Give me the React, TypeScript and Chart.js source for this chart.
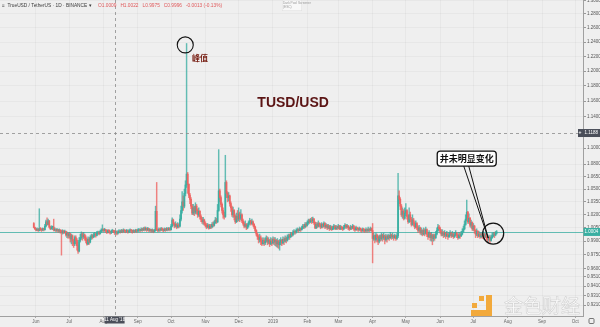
import React, { useEffect, useRef } from "react";
import { Chart, registerables } from "chart.js";

Chart.register(...registerables);

// Daily candles TUSD/USDT (Binance). Day index 0 = 1 Jun 2018.
const FIRST_DAY = -2;
const FIRST_OPEN = 1.01;

// Each entry: [close, high, low]; open = previous close
const BARS_MAY_2018 = [
  [1.0055, 1.011, 1.005], [1.004, 1.006, 1.003],
];
const BARS_JUN_2018 = [
  [1.0025, 1.0045, 1.0015], [1.0035, 1.005, 1.002], [1.002, 1.004, 1.001], [1.0045, 1.027, 1.0015],
  [1.003, 1.0055, 1.002], [1.0025, 1.004, 1.001], [1.004, 1.005, 1.002], [1.003, 1.0045, 1.0015],
  [1.007, 1.009, 1.0025], [1.012, 1.014, 1.006], [1.009, 1.0165, 1.008], [1.013, 1.015, 1.0085],
  [1.006, 1.0135, 1.005], [1.004, 1.007, 1.003], [1.0055, 1.0075, 1.0035], [1.006, 1.007, 1.003],
  [1.0025, 1.015, 1.0015], [1.0035, 1.005, 1.0015], [1.002, 1.004, 1.0005], [1.003, 1.0045, 1.001],
  [1.0015, 1.0035, 1.0], [1.0025, 1.004, 1.0005], [1.001, 1.003, 0.999], [1.0005, 1.0025, 0.9745],
  [1.0015, 1.003, 0.998], [1.0, 1.002, 0.9985], [1.001, 1.0025, 0.999], [0.997, 1.0015, 0.9955],
  [0.999, 1.0005, 0.994], [0.996, 0.9995, 0.993],
];
const BARS_JUL_2018 = [
  [0.998, 1.0, 0.994], [0.9925, 0.999, 0.989], [0.996, 0.998, 0.987], [0.99, 0.997, 0.985],
  [0.987, 0.992, 0.983], [0.994, 0.996, 0.985], [0.991, 0.996, 0.987], [0.985, 0.993, 0.98],
  [0.979, 0.989, 0.9765], [0.991, 0.994, 0.978], [0.994, 0.998, 0.989], [0.998, 1.0005, 0.992],
  [0.995, 0.9995, 0.991], [0.997, 1.0, 0.993], [0.994, 0.998, 0.991], [0.991, 0.996, 0.988],
  [0.987, 0.993, 0.9855], [0.992, 0.995, 0.986], [0.989, 0.994, 0.9865], [0.994, 0.996, 0.988],
  [0.996, 0.998, 0.992], [0.9945, 0.9975, 0.9925], [0.997, 0.999, 0.994], [0.998, 1.0, 0.995],
  [0.9965, 0.999, 0.9945], [0.999, 1.001, 0.996], [1.0, 1.0015, 0.9975], [0.9985, 1.001, 0.997],
  [1.001, 1.0025, 0.998], [1.002, 1.004, 1.0], [1.0035, 1.0085, 1.001],
];
const BARS_AUG_2018 = [
  [1.002, 1.004, 1.0005], [1.003, 1.0045, 1.001], [1.0015, 1.0035, 1.0], [1.0005, 1.0025, 0.9985],
  [1.002, 1.003, 0.9995], [1.001, 1.003, 0.999], [0.9995, 1.0015, 0.998], [1.001, 1.0025, 0.9985],
  [1.002, 1.0035, 1.0], [1.0009, 1.0025, 0.9995], [0.9996, 1.0022, 0.9975], [1.0005, 1.002, 0.9985],
  [0.999, 1.0015, 0.997], [1.0, 1.002, 0.998], [1.0015, 1.003, 0.9995], [1.0005, 1.002, 0.999],
  [1.002, 1.0035, 1.0], [1.001, 1.003, 0.9995], [1.0025, 1.004, 1.0005], [1.0015, 1.003, 1.0],
  [1.001, 1.0025, 0.9995], [1.002, 1.0035, 1.0005], [1.0005, 1.0025, 0.999], [1.0015, 1.003, 1.0],
  [1.0025, 1.004, 1.0005], [1.0015, 1.0035, 1.0], [1.001, 1.0025, 0.999], [1.002, 1.003, 1.0],
  [1.001, 1.0025, 0.9995], [1.0025, 1.0035, 1.0005], [1.0015, 1.003, 1.0],
];
const BARS_SEP_2018 = [
  [1.002, 1.004, 1.0005], [1.003, 1.0045, 1.001], [1.002, 1.0035, 1.0005], [1.0035, 1.005, 1.0015],
  [1.0025, 1.0045, 1.001], [1.004, 1.0055, 1.002], [1.003, 1.006, 1.0015], [1.0045, 1.006, 1.002],
  [1.0025, 1.005, 1.001], [1.004, 1.0055, 1.002], [1.002, 1.0045, 1.0005], [1.003, 1.004, 1.001],
  [1.0015, 1.0035, 1.0], [1.0025, 1.004, 1.0005], [1.001, 1.003, 0.9995], [1.002, 1.0035, 1.0005],
  [1.024, 1.03, 1.0015], [1.003, 1.058, 1.002], [1.002, 1.004, 1.0005], [1.0035, 1.005, 1.001],
  [1.0025, 1.0045, 1.001], [1.004, 1.0055, 1.002], [1.003, 1.005, 1.0015], [1.002, 1.004, 1.0005],
  [1.0035, 1.005, 1.0015], [1.0025, 1.0045, 1.001], [1.004, 1.0055, 1.002], [1.003, 1.005, 1.0015],
  [1.0035, 1.0055, 1.002], [1.003, 1.005, 1.0015],
];
const BARS_OCT_2018 = [
  [1.007, 1.009, 1.0025], [1.014, 1.0165, 1.006], [1.01, 1.015, 1.008], [1.007, 1.011, 1.005],
  [1.009, 1.012, 1.006], [1.006, 1.01, 1.004], [1.008, 1.011, 1.005], [1.007, 1.01, 1.005],
  [1.015, 1.02, 1.006], [1.025, 1.03, 1.013], [1.035, 1.047, 1.022], [1.03, 1.042, 1.025],
  [1.045, 1.05, 1.028], [1.055, 1.06, 1.042], [1.068, 1.238, 1.052], [1.056, 1.07, 1.045],
  [1.043, 1.054, 1.04], [1.038, 1.045, 1.033], [1.03, 1.04, 1.027], [1.022, 1.032, 1.02],
  [1.028, 1.032, 1.02], [1.023, 1.03, 1.019], [1.03, 1.034, 1.021], [1.025, 1.032, 1.021],
  [1.02, 1.027, 1.017], [1.024, 1.028, 1.018], [1.018, 1.025, 1.015], [1.015, 1.02, 1.012],
  [1.012, 1.017, 1.01], [1.014, 1.017, 1.009], [1.01, 1.015, 1.008],
];
const BARS_NOV_2018 = [
  [1.008, 1.012, 1.006], [1.006, 1.01, 1.004], [1.008, 1.01, 1.005], [1.005, 1.009, 1.0035],
  [1.007, 1.009, 1.004], [1.006, 1.009, 1.004], [1.009, 1.011, 1.005], [1.008, 1.012, 1.006],
  [1.011, 1.013, 1.007], [1.014, 1.017, 1.01], [1.012, 1.016, 1.01], [1.025, 1.032, 1.011],
  [1.048, 1.098, 1.024], [1.04, 1.05, 1.035], [1.032, 1.042, 1.029], [1.025, 1.034, 1.022],
  [1.02, 1.028, 1.016], [1.018, 1.023, 1.015], [1.058, 1.091, 1.017], [1.045, 1.06, 1.04],
  [1.04, 1.047, 1.035], [1.042, 1.046, 1.036], [1.033, 1.043, 1.03], [1.028, 1.035, 1.024],
  [1.02, 1.03, 1.018], [1.025, 1.029, 1.017], [1.018, 1.026, 1.014], [1.012, 1.02, 1.01],
  [1.018, 1.022, 1.011], [1.015, 1.025, 1.012],
];
const BARS_DEC_2018 = [
  [1.021, 1.028, 1.013], [1.016, 1.023, 1.012], [1.02, 1.026, 1.014], [1.013, 1.021, 1.011],
  [1.01, 1.015, 1.008], [1.007, 1.012, 1.005], [1.009, 1.013, 1.006], [1.005, 1.01, 1.003],
  [1.008, 1.01, 1.004], [1.011, 1.013, 1.006], [1.013, 1.016, 1.009], [1.01, 1.014, 1.008],
  [1.012, 1.015, 1.009], [1.009, 1.013, 1.007], [1.006, 1.01, 1.004], [1.002, 1.007, 1.0],
  [0.998, 1.003, 0.996], [0.995, 0.999, 0.992], [0.992, 0.997, 0.988], [0.994, 0.998, 0.989],
  [0.99, 0.996, 0.986], [0.987, 0.993, 0.985], [0.991, 0.994, 0.987], [0.988, 0.993, 0.985],
  [0.99, 0.994, 0.986], [0.993, 0.996, 0.989], [0.989, 0.995, 0.986], [0.991, 0.994, 0.987],
  [0.987, 0.992, 0.984], [0.99, 0.994, 0.986], [0.988, 0.993, 0.985],
];
const BARS_JAN_2019 = [
  [0.992, 0.995, 0.987], [0.989, 0.994, 0.986], [0.991, 0.994, 0.985], [0.987, 0.992, 0.984],
  [0.99, 0.993, 0.983], [0.986, 0.991, 0.982], [0.989, 0.992, 0.98], [0.991, 0.994, 0.986],
  [0.988, 0.992, 0.985], [0.992, 0.995, 0.987], [0.99, 0.994, 0.986], [0.993, 0.996, 0.989],
  [0.991, 0.995, 0.988], [0.994, 0.997, 0.99], [0.996, 0.998, 0.992], [0.995, 0.998, 0.992],
  [0.998, 1.0, 0.994], [0.997, 1.0, 0.995], [1.0, 1.002, 0.996], [1.001, 1.003, 0.998],
  [1.0, 1.002, 0.998], [1.002, 1.004, 0.999], [1.003, 1.005, 1.001], [1.002, 1.004, 1.0],
  [1.004, 1.006, 1.0015], [1.003, 1.005, 1.001], [1.005, 1.007, 1.0025], [1.007, 1.009, 1.004],
  [1.006, 1.009, 1.004], [1.009, 1.011, 1.005], [1.008, 1.011, 1.006],
];
const BARS_FEB_2019 = [
  [1.011, 1.013, 1.007], [1.013, 1.015, 1.009], [1.012, 1.015, 1.01], [1.014, 1.016, 1.011],
  [1.013, 1.017, 1.01], [1.015, 1.0175, 1.011], [1.011, 1.016, 1.009], [1.005, 1.012, 1.004],
  [1.009, 1.011, 1.004], [1.007, 1.011, 1.005], [1.01, 1.013, 1.006], [1.008, 1.011, 1.006],
  [1.006, 1.01, 1.004], [1.009, 1.011, 1.005], [1.007, 1.01, 1.005], [1.01, 1.012, 1.006],
  [1.006, 1.011, 1.004], [1.008, 1.01, 1.005], [1.005, 1.009, 1.003], [1.007, 1.009, 1.004],
  [1.004, 1.008, 1.002], [1.006, 1.008, 1.003], [1.003, 1.007, 1.002], [1.005, 1.007, 1.003],
  [1.007, 1.009, 1.004], [1.004, 1.008, 1.003], [1.006, 1.008, 1.003], [1.005, 1.007, 1.003],
];
const BARS_MAR_2019 = [
  [1.007, 1.009, 1.004], [1.004, 1.008, 1.003], [1.006, 1.008, 1.003], [1.005, 1.007, 1.003],
  [1.004, 1.006, 1.002], [1.006, 1.008, 1.003], [1.008, 1.01, 1.005], [1.006, 1.009, 1.004],
  [1.007, 1.009, 1.005], [1.005, 1.008, 1.003], [1.004, 1.006, 1.002], [1.006, 1.008, 1.003],
  [1.005, 1.007, 1.003], [1.007, 1.009, 1.004], [1.004, 1.008, 1.002], [1.003, 1.006, 1.001],
  [1.005, 1.007, 1.002], [1.004, 1.006, 1.002], [1.003, 1.005, 1.001], [1.0045, 1.006, 1.002],
  [1.003, 1.005, 1.001], [1.002, 1.004, 1.0], [1.0035, 1.005, 1.001], [1.0025, 1.0045, 1.0005],
  [1.0015, 1.0035, 1.0], [1.003, 1.005, 1.001], [1.002, 1.004, 1.0], [1.0035, 1.006, 1.001],
  [1.0025, 1.004, 1.0005], [1.004, 1.006, 1.0015], [1.002, 1.005, 1.001],
];
const BARS_APR_2019 = [
  [0.993, 1.01, 0.966], [0.996, 0.999, 0.991], [0.992, 0.997, 0.988], [0.997, 0.999, 0.99],
  [0.994, 0.998, 0.989], [0.99, 0.996, 0.986], [0.995, 0.997, 0.988], [0.993, 0.997, 0.99],
  [0.997, 0.999, 0.991], [0.994, 0.998, 0.99], [0.996, 0.999, 0.992], [0.992, 0.997, 0.987],
  [0.995, 0.998, 0.99], [0.993, 0.997, 0.989], [0.996, 0.998, 0.992], [0.994, 0.997, 0.991],
  [0.997, 1.0, 0.993], [0.995, 0.998, 0.992], [0.996, 0.999, 0.993], [0.994, 0.997, 0.991],
  [0.996, 0.998, 0.993], [0.993, 0.997, 0.991], [0.996, 0.999, 0.992], [1.042, 1.069, 0.994],
  [1.038, 1.048, 1.033], [1.03, 1.04, 1.026], [1.02, 1.032, 1.018], [1.024, 1.028, 1.016],
  [1.016, 1.026, 1.014], [1.022, 1.028, 1.015],
];
const BARS_MAY_2019 = [
  [1.025, 1.033, 1.019], [1.018, 1.026, 1.015], [1.012, 1.02, 1.01], [1.02, 1.028, 1.011],
  [1.015, 1.023, 1.012], [1.009, 1.017, 1.007], [1.014, 1.02, 1.008], [1.01, 1.016, 1.007],
  [1.006, 1.012, 1.004], [1.01, 1.013, 1.005], [1.005, 1.011, 1.003], [1.002, 1.007, 1.0],
  [1.005, 1.008, 1.001], [1.0, 1.006, 0.998], [1.002, 1.005, 0.997], [0.998, 1.003, 0.996],
  [1.002, 1.005, 0.997], [0.999, 1.004, 0.996], [1.003, 1.006, 0.998], [0.998, 1.004, 0.995],
  [0.995, 1.0, 0.992], [0.999, 1.002, 0.994], [0.994, 0.999, 0.991], [0.997, 1.0, 0.99],
  [0.993, 0.998, 0.986], [0.996, 0.998, 0.99], [0.994, 0.998, 0.991], [0.998, 1.001, 0.993],
  [1.002, 1.005, 0.997], [1.006, 1.009, 1.001], [1.004, 1.008, 1.002],
];
const BARS_JUN_2019 = [
  [1.001, 1.006, 0.999], [0.998, 1.003, 0.996], [1.0, 1.003, 0.996], [0.997, 1.001, 0.994],
  [0.999, 1.002, 0.995], [0.996, 1.0, 0.993], [0.998, 1.001, 0.995], [0.995, 0.999, 0.992],
  [0.997, 1.0, 0.994], [0.999, 1.002, 0.996], [0.996, 1.0, 0.994], [0.998, 1.001, 0.995],
  [0.995, 0.999, 0.993], [0.997, 1.0, 0.994], [0.999, 1.002, 0.996], [0.997, 1.0, 0.994],
  [0.994, 0.998, 0.992], [0.997, 1.0, 0.993], [0.996, 0.999, 0.993], [0.998, 1.001, 0.995],
  [1.001, 1.004, 0.997], [1.004, 1.007, 1.0], [1.009, 1.013, 1.003], [1.015, 1.02, 1.008],
  [1.023, 1.037, 1.013], [1.012, 1.024, 1.01], [1.016, 1.021, 1.01], [1.008, 1.017, 1.006],
  [1.011, 1.014, 1.005], [1.004, 1.012, 1.002],
];
const BARS_JUL_2019 = [
  [1.007, 1.01, 1.002], [1.002, 1.008, 0.999], [0.998, 1.003, 0.994], [1.001, 1.004, 0.996],
  [0.996, 1.002, 0.994], [0.998, 1.001, 0.995], [0.995, 0.999, 0.993], [0.997, 1.0, 0.994],
  [0.996, 0.999, 0.993], [0.998, 1.001, 0.995], [0.995, 0.999, 0.992], [0.997, 0.999, 0.994],
  [0.994, 0.998, 0.991], [0.992, 0.996, 0.989], [0.994, 0.997, 0.99], [0.991, 0.996, 0.988],
  [0.994, 0.997, 0.99], [0.996, 0.999, 0.993], [0.998, 1.0, 0.995], [0.997, 1.0, 0.994],
  [0.999, 1.001, 0.996], [1.0004, 1.002, 0.998],
];

// Axis ticks
const X_TICK_DAYS = [0, 30, 61, 92, 122, 153, 183, 214, 245, 273, 304, 334, 365, 395, 426, 457, 487];
const X_TICK_LABELS = ["Jun", "Jul", "Aug", "Sep", "Oct", "Nov", "Dec", "2019", "Feb", "Mar", "Apr", "May", "Jun", "Jul", "Aug", "Sep", "Oct"];
const Y_TICKS = [1.3, 1.28, 1.26, 1.24, 1.22, 1.2, 1.18, 1.16, 1.14, 1.1, 1.08, 1.065, 1.05, 1.035, 1.02, 1.005, 0.99, 0.975, 0.96, 0.951, 0.941, 0.931, 0.921];
const X_MIN = -32.5;
const X_MAX = 494;
const Y_MIN = 0.9097;
const Y_MAX = 1.3004;

// Crosshair & annotations (data coordinates)
const CROSSHAIR_DAY = 71;
const CROSSHAIR_PRICE = 1.1188;
const PEAK_MARK = { day: 134.8, price: 1.236 };
const PEAK_LABEL = { day: 140.9, price: 1.2179, text: "峰值" };
const TITLE = { day: 232.2, price: 1.1574, text: "TUSD/USD" };
const NOTE = { day: 389, price: 1.087, text: "并未明显变化" };
const NOTE_TIP = { day: 408.4, price: 0.9935 };
const END_MARK = { day: 412.9, price: 0.9986 };

const MONTH_ABBR = ["Jan", "Feb", "Mar", "Apr", "May", "Jun", "Jul", "Aug", "Sep", "Oct", "Nov", "Dec"];

const UP = "#3aafa2";
const DOWN = "#ee6462";
const UP_WICK = "rgba(38,166,154,0.7)";
const DOWN_WICK = "rgba(239,83,80,0.7)";
const BG = "#efefef";
const FONT = "'Liberation Sans', Arial, sans-serif";
const CJK = "'Noto Sans CJK SC', sans-serif";

const ALL_BARS = [
  BARS_MAY_2018, BARS_JUN_2018, BARS_JUL_2018, BARS_AUG_2018, BARS_SEP_2018, BARS_OCT_2018,
  BARS_NOV_2018, BARS_DEC_2018, BARS_JAN_2019, BARS_FEB_2019, BARS_MAR_2019, BARS_APR_2019,
  BARS_MAY_2019, BARS_JUN_2019, BARS_JUL_2019,
].flat();

const CANDLES = ALL_BARS.map((b, i) => {
  const o = i === 0 ? FIRST_OPEN : ALL_BARS[i - 1][0];
  const c = b[0];
  return { x: FIRST_DAY + i, o, c, h: Math.max(b[1], o, c), l: Math.min(b[2], o, c) };
});

export default function App() {
  const ref = useRef<HTMLCanvasElement>(null);

  useEffect(() => {
    document.body.style.margin = "0";
    const canvas = ref.current;
    if (!canvas) return;
    const last = CANDLES[CANDLES.length - 1];
    const cross = CANDLES.find((k) => k.x === CROSSHAIR_DAY) || last;

    const overlay = {
      id: "overlay",
      beforeDraw(chart: any) {
        const ctx = chart.ctx;
        ctx.save();
        ctx.fillStyle = BG;
        ctx.fillRect(0, 0, chart.width, chart.height);
        ctx.restore();
      },
      beforeDatasetsDraw(chart: any) {
        const { ctx, chartArea: a, scales } = chart;
        const yy = Math.round(scales.y.getPixelForValue(last.c)) + 0.5;
        ctx.save();
        ctx.strokeStyle = "rgba(38,166,154,0.7)";
        ctx.lineWidth = 1;
        ctx.beginPath();
        ctx.moveTo(a.left, yy);
        ctx.lineTo(a.right, yy);
        ctx.stroke();
        ctx.restore();
      },
      afterDatasetsDraw(chart: any) {
        const { ctx, chartArea: a, scales } = chart;
        const X = (d: number) => scales.x.getPixelForValue(d);
        const Y = (p: number) => scales.y.getPixelForValue(p);
        ctx.save();
        // crosshair
        ctx.strokeStyle = "#8c8c8c";
        ctx.lineWidth = 0.8;
        ctx.setLineDash([3, 3]);
        const cx = Math.round(X(CROSSHAIR_DAY)) + 0.5;
        const cy = Math.round(Y(CROSSHAIR_PRICE)) + 0.5;
        ctx.beginPath();
        ctx.moveTo(cx, a.top);
        ctx.lineTo(cx, a.bottom);
        ctx.moveTo(a.left, cy);
        ctx.lineTo(a.right, cy);
        ctx.stroke();
        ctx.setLineDash([]);

        // peak circle
        ctx.strokeStyle = "#111";
        ctx.lineWidth = 1.1;
        ctx.beginPath();
        ctx.arc(X(PEAK_MARK.day), Y(PEAK_MARK.price), 8, 0, Math.PI * 2);
        ctx.stroke();
        // peak label
        ctx.fillStyle = "#7a2318";
        ctx.font = `bold 8px ${CJK}`;
        ctx.textAlign = "left";
        ctx.textBaseline = "middle";
        ctx.fillText(PEAK_LABEL.text, X(PEAK_LABEL.day), Y(PEAK_LABEL.price));
        // title
        ctx.fillStyle = "#5b1414";
        ctx.font = `bold 14px ${FONT}`;
        ctx.textAlign = "center";
        ctx.fillText(TITLE.text, X(TITLE.day), Y(TITLE.price));

        // callout
        const nx = X(NOTE.day);
        const ny = Y(NOTE.price);
        const bw = 59, bh = 15;
        const tipX = X(NOTE_TIP.day);
        const tipY = Y(NOTE_TIP.price);
        ctx.strokeStyle = "#111";
        ctx.lineWidth = 1;
        ctx.beginPath();
        ctx.moveTo(nx - 3, ny + bh / 2);
        ctx.lineTo(tipX, tipY);
        ctx.lineTo(nx + 2, ny + bh / 2);
        ctx.stroke();
        ctx.fillStyle = "#ffffff";
        ctx.lineWidth = 1.3;
        ctx.beginPath();
        (ctx as any).roundRect(nx - bw / 2, ny - bh / 2, bw, bh, 3);
        ctx.fill();
        ctx.stroke();
        ctx.fillStyle = "#111";
        ctx.font = `bold 9px ${CJK}`;
        ctx.textAlign = "center";
        ctx.fillText(NOTE.text, nx, ny + 0.5);

        // end circle
        ctx.lineWidth = 1.2;
        ctx.beginPath();
        ctx.arc(X(END_MARK.day), Y(END_MARK.price), 10.5, 0, Math.PI * 2);
        ctx.stroke();
        ctx.restore();
      },
      afterDraw(chart: any) {
        const { ctx, chartArea: a, scales } = chart;
        const X = (d: number) => scales.x.getPixelForValue(d);
        const Y = (p: number) => scales.y.getPixelForValue(p);
        ctx.save();
        ctx.textBaseline = "middle";

        // crosshair date label
        const dt = new Date(Date.UTC(2018, 5, 1 + CROSSHAIR_DAY));
        const dateTxt = `${dt.getUTCDate()} ${MONTH_ABBR[dt.getUTCMonth()]} '${String(dt.getUTCFullYear()).slice(2)}`;
        const cx = X(CROSSHAIR_DAY);
        ctx.fillStyle = "#4a4e59";
        ctx.fillRect(cx - 10, a.bottom + 0.5, 20, 7);
        ctx.fillStyle = "#fff";
        ctx.font = `4.5px ${FONT}`;
        ctx.textAlign = "center";
        ctx.fillText(dateTxt, cx, a.bottom + 4);

        // crosshair price label
        const cy = Y(CROSSHAIR_PRICE);
        ctx.fillStyle = "#4a4e59";
        ctx.fillRect(a.right - 5, cy - 4, chart.width - a.right + 5, 8);
        ctx.fillStyle = "#fff";
        ctx.textAlign = "left";
        ctx.font = `bold 5px ${FONT}`;
        ctx.fillText("+", a.right - 4.5, cy);
        ctx.font = `4.5px ${FONT}`;
        ctx.fillText(CROSSHAIR_PRICE.toFixed(4), a.right + 1.5, cy);

        // last price label
        const ly = Y(last.c);
        ctx.fillStyle = UP;
        ctx.fillRect(a.right + 0.5, ly - 4, chart.width - a.right, 8);
        ctx.fillStyle = "#fff";
        ctx.fillText(last.c.toFixed(4), a.right + 1.5, ly);

        // header
        ctx.fillStyle = "#3a3a3a";
        ctx.font = `4.8px ${FONT}`;
        ctx.fillText("≡  TrueUSD / TetherUS · 1D · BINANCE ▾", 2, 6);
        const chg = cross.c - cross.o;
        const sign = chg < 0 ? "-" : "+";
        const ohlc = `O${cross.o.toFixed(4)}   H${cross.h.toFixed(4)}   L${cross.l.toFixed(4)}   C${cross.c.toFixed(4)}   ${sign}${Math.abs(chg).toFixed(4)} (${sign}${Math.abs((chg / cross.o) * 100).toFixed(2)}%)`;
        ctx.fillStyle = "#e0585a";
        ctx.fillText(ohlc, 98, 6);

        // dark pool popup
        ctx.fillStyle = "#f8f8f8";
        ctx.fillRect(282, 0, 20, 11);
        ctx.strokeStyle = "#dddddd";
        ctx.lineWidth = 0.5;
        ctx.strokeRect(282.25, 0.25, 19.5, 10.5);
        ctx.fillStyle = "#999";
        ctx.font = `3.2px ${FONT}`;
        ctx.fillText("Dark Pool Screener", 283, 3.2);
        ctx.fillText("(ESC)", 283, 7.5);

        // watermark logo
        ctx.fillStyle = "#f2a93b";
        ctx.fillRect(479, 296, 5, 5);
        ctx.fillRect(472, 303, 5, 5);
        ctx.fillRect(486, 295, 6, 21);
        ctx.fillRect(471, 310, 21, 6);
        ctx.font = `19px ${CJK}`;
        ctx.textAlign = "left";
        ctx.fillStyle = "rgba(255,255,255,0.85)";
        ctx.strokeStyle = "rgba(185,185,185,0.6)";
        ctx.lineWidth = 0.6;
        ctx.fillText("金色财经", 504, 306);
        ctx.strokeText("金色财经", 504, 306);

        // corner icon
        ctx.strokeStyle = "#555";
        ctx.lineWidth = 0.8;
        ctx.beginPath();
        (ctx as any).roundRect(589, 318.5, 5, 5, 1);
        ctx.stroke();
        ctx.restore();
      },
    };

    const chart = new Chart(canvas, {
      type: "bar",
      data: {
        datasets: [
          {
            label: "body",
            data: CANDLES.map((k) => ({ x: k.x, y: [Math.min(k.o, k.c), Math.max(k.o, k.c)] })) as any,
            backgroundColor: CANDLES.map((k) => (k.c >= k.o ? UP : DOWN)),
            barThickness: 1.1,
            minBarLength: 1,
            grouped: false,
            borderWidth: 0,
          },
          {
            label: "wick",
            data: CANDLES.map((k) => ({ x: k.x, y: [k.l, k.h] })) as any,
            backgroundColor: CANDLES.map((k) => (k.c >= k.o ? UP_WICK : DOWN_WICK)),
            barThickness: 0.8,
            grouped: false,
            borderWidth: 0,
          },
        ],
      },
      options: {
        responsive: false,
        animation: false,
        devicePixelRatio: 1,
        events: [],
        layout: { padding: 0 },
        plugins: { legend: { display: false }, tooltip: { enabled: false } },
        scales: {
          x: {
            type: "linear",
            min: X_MIN,
            max: X_MAX,
            bounds: "data",
            offset: false,
            grid: { color: "rgba(0,0,0,0.03)", tickColor: "#aaa", tickLength: 2, offset: false },
            border: { color: "#a0a0a0" },
            ticks: {
              autoSkip: false,
              maxRotation: 0,
              minRotation: 0,
              padding: 1,
              color: "#666",
              font: { size: 4.5, family: FONT },
              callback: (v: any) => X_TICK_LABELS[X_TICK_DAYS.indexOf(Number(v))] ?? "",
            },
            afterBuildTicks: (s: any) => {
              s.ticks = X_TICK_DAYS.map((v) => ({ value: v }));
            },
            afterFit: (s: any) => {
              s.height = 11;
              s.paddingLeft = 0;
              s.paddingRight = 0;
            },
          },
          y: {
            type: "logarithmic",
            position: "right",
            min: Y_MIN,
            max: Y_MAX,
            bounds: "data",
            grid: { color: "rgba(0,0,0,0.03)", tickColor: "#999", tickLength: 3 },
            border: { color: "#a0a0a0" },
            ticks: {
              autoSkip: false,
              padding: 1,
              color: "#555",
              font: { size: 4.5, family: FONT },
              callback: (v: any) => Number(v).toFixed(4),
            },
            afterBuildTicks: (s: any) => {
              s.ticks = Y_TICKS.map((v) => ({ value: v }));
            },
            afterFit: (s: any) => {
              s.width = 17;
              s.paddingTop = 0;
              s.paddingBottom = 0;
            },
          },
        },
      } as any,
      plugins: [overlay],
    });
    return () => chart.destroy();
  }, []);

  return <canvas ref={ref} width={600} height={327} style={{ display: "block" }} />;
}
